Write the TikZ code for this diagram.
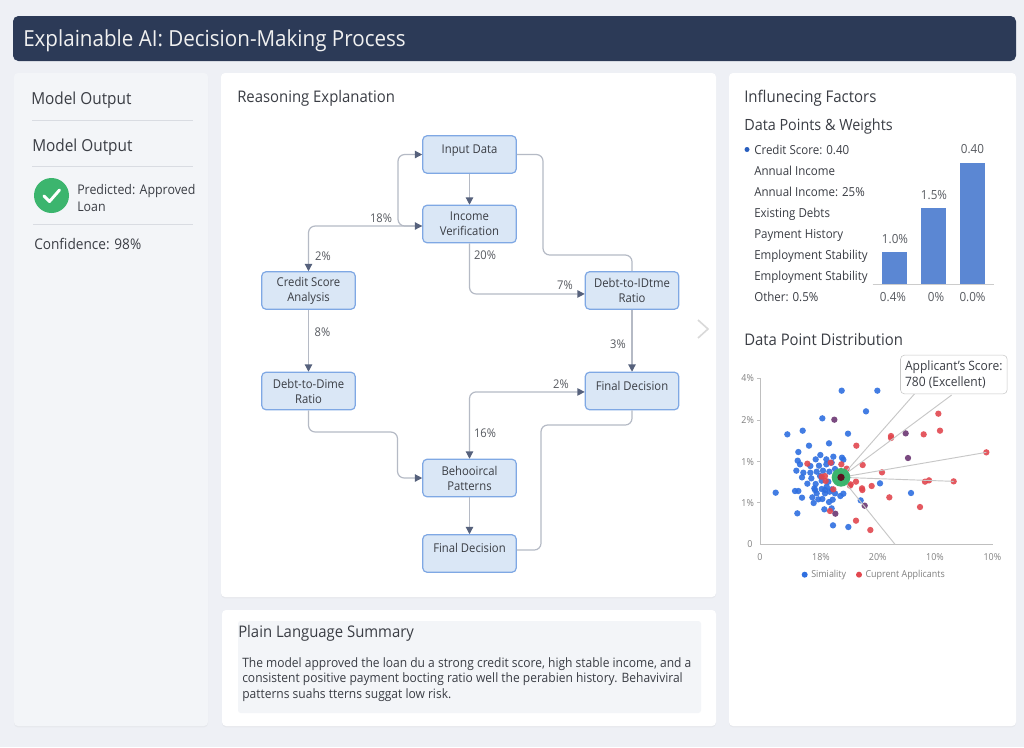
\documentclass[tikz,border=0pt]{standalone}
\usepackage{fontspec}
\setmainfont{Open Sans}[FakeStretch=0.93]
\usepackage{xcolor}
\usetikzlibrary{arrows.meta,shadows}
\definecolor{pagebg}{HTML}{EEF0F5}
\definecolor{titlebar}{HTML}{2C3A57}
\definecolor{sidepanel}{HTML}{F3F5F8}
\definecolor{inktext}{HTML}{3A3D44}
\definecolor{flowfill}{HTML}{DAE7F6}
\definecolor{flowedge}{HTML}{7FA8E4}
\definecolor{flowline}{HTML}{B5BAC5}
\definecolor{flowtip}{HTML}{56617C}
\definecolor{barblue}{HTML}{5B87D3}
\definecolor{dotblue}{HTML}{2F6FE0}
\definecolor{dotred}{HTML}{E2474F}
\definecolor{dotdark}{HTML}{7A4A80}
\definecolor{dotcore}{HTML}{5C1020}
\definecolor{okgreen}{HTML}{3CB56E}
\definecolor{rulegrey}{HTML}{D9DCE2}
\tikzset{
  panel/.style={fill=white, rounded corners=3pt, drop shadow={opacity=.07, shadow xshift=0pt, shadow yshift=-1pt}},
  flowbox/.style={draw=flowedge, fill=flowfill, line width=.9pt, rounded corners=3pt, align=center,
    minimum width=70pt, minimum height=28pt, inner sep=0pt, text=inktext, font=\fontsize{9.1}{11.2}\selectfont},
  flowone/.style={flowbox, text depth=8pt},
  flowarrow/.style={draw=flowline, line width=.9pt, rounded corners=5pt, -{Triangle[length=5.5pt,width=5.5pt,color=flowtip]}},
  flowtwo/.style={flowarrow, {Triangle[length=5.5pt,width=5.5pt,color=flowtip]}-{Triangle[length=5.5pt,width=5.5pt,color=flowtip]}},
  flowplain/.style={draw=flowline, line width=.9pt, rounded corners=5pt},
  pct/.style={text=inktext!85, font=\fontsize{9}{10}\selectfont, inner sep=0pt},
  head/.style={anchor=base west, yshift=-4.2pt, text=inktext, inner sep=0pt, font=\fontsize{12}{14}\selectfont},
  txt/.style={anchor=base west, yshift=-3.4pt, text=inktext, inner sep=0pt, font=\fontsize{9.3}{12}\selectfont},
  tick/.style={text=black!50, inner sep=0pt, font=\fontsize{7.2}{8}\selectfont},
  barlbl/.style={text=inktext!85, inner sep=0pt, font=\fontsize{9.4}{10}\selectfont},
  rulegr/.style={draw=rulegrey, line width=.6pt},
}
\begin{document}
\begin{tikzpicture}[x=.75pt,y=-.75pt]
  \useasboundingbox (0,0) rectangle (1024,747);
  \fill[pagebg] (0,0) rectangle (1024,747);
  % title and panels
  \fill[titlebar, rounded corners=4pt] (13,16) rectangle (1016,61);
  \node[anchor=base west, yshift=-6pt, text=white!94!black, inner sep=0pt, font=\fontsize{16.6}{20}\selectfont] (title) at (23,38) {Explainable AI: Decision-Making Process};
  \fill[panel, fill=sidepanel] (14,73) rectangle (208,726);
  \fill[panel] (221,73) rectangle (716,597);
  \fill[panel] (222,610) rectangle (716,726);
  \fill[panel] (729,73) rectangle (1016,726);
  % left panel
  \node[head, font=\fontsize{12.4}{14}\selectfont] (out1) at (31,98.5) {Model Output};
  \draw[rulegr] (32,120.5) -- (193,120.5);
  \node[head, font=\fontsize{12.4}{14}\selectfont] (out2) at (32,145.5) {Model Output};
  \draw[rulegr] (32,166.5) -- (193,166.5);
  \fill[okgreen] (51.5,195.5) circle (17.5);
  \draw[white, line width=2.2pt, line cap=round, line join=round] (44,196) -- (49.5,201.5) -- (59.5,190);
  \node[txt, anchor=west, yshift=0pt, align=left, font=\fontsize{10}{12.8}\selectfont] (pred) at (77,193.5) {Predicted: Approved\\Loan};
  \draw[rulegr] (33,224.5) -- (193,224.5);
  \node[txt, font=\fontsize{11}{12}\selectfont] (conf) at (34,244.5) {Confidence: 98\%};
  % reasoning flow
  \node[head] (reason) at (237,96.5) {Reasoning Explanation};
  \node[flowone] (input) at (469.5,154.5) {Input Data};
  \node[flowbox] (income) at (469.5,224) {Income\\Verification};
  \node[flowbox] (credit) at (308.5,290.5) {Credit Score\\Analysis};
  \node[flowbox] (dtime) at (632,290.5) {Debt-to-IDtme\\Ratio};
  \node[flowbox] (ddime) at (308.5,391) {Debt-to-Dime\\Ratio};
  \node[flowone] (finalr) at (632,391) {Final Decision};
  \node[flowbox] (behav) at (469.5,478) {Behooircal\\Patterns};
  \node[flowone] (finalb) at (469.5,553.5) {Final Decision};
  \coordinate (incomein) at ([yshift=-1.5pt]income.west);
  \coordinate (dtimein) at ([yshift=-2.6pt]dtime.west);
  \coordinate (finalrin) at ([yshift=-.7pt]finalr.west);
  \coordinate (finalbout) at ([yshift=2.6pt]finalb.east);
  \draw[flowarrow] (input) -- (income);
  \draw[flowarrow] (incomein) -- (398,226) -- (398,154.5) -- (input.west);
  \draw[flowtwo] (credit.north) -- (308.5,226) -- (incomein);
  \draw[flowplain] (input.east) -- (543,154.5) -- (543,255) -- (632,255) -- (dtime.north);
  \draw[flowarrow] (income.south) -- (469.5,294) -- (dtimein);
  \draw[flowarrow] (credit) -- (ddime);
  \draw[flowarrow] (dtime) -- (finalr);
  \draw[flowarrow] (ddime.south) -- (308.5,432) -- (397.5,432) -- (397.5,478) -- (behav.west);
  \draw[flowtwo] (behav.north) -- (469.5,391.9) -- (finalrin);
  \draw[flowarrow] (behav) -- (finalb);
  \draw[flowplain] (finalbout) -- (541,550) -- (541,425) -- (632,425) -- (finalr.south);
  \node[pct] (p18) at (381,218) {18\%};
  \node[pct] (p2a) at (323,256) {2\%};
  \node[pct] (p20) at (485,255) {20\%};
  \node[pct] (p7) at (565,285) {7\%};
  \node[pct] (p8) at (322.5,332) {8\%};
  \node[pct] (p3) at (618,344) {3\%};
  \node[pct] (p2b) at (561,384) {2\%};
  \node[pct] (p16) at (485,433) {16\%};
  \draw[black!15, line width=1.2pt] (698,320) -- (708,329) -- (698,338);
  % summary
  \fill[pagebg!70, rounded corners=2pt] (238,621) rectangle (701,713);
  \node[head] (plain) at (238,632) {Plain Language Summary};
  \node[txt, align=left, anchor=north west, yshift=0pt, font=\fontsize{9.7}{11.7}\selectfont] (sumtxt) at (242,652.5) {The model approved the loan du a strong credit score, high stable income, and a\\consistent positive payment bocting ratio well the perabien history. Behaviviral\\patterns suahs tterns suggat low risk.};
  % factors
  \node[head, font=\fontsize{12.1}{14}\selectfont] (factors) at (744,96.5) {Influnecing Factors};
  \node[head, font=\fontsize{11.6}{14}\selectfont] (weights) at (744,125) {Data Points \& Weights};
  \fill[dotblue!85!black] (747,149.5) circle (2.5);
  \foreach \i/\yy/\t in {1/149.5/Credit Score: 0.40, 2/170.5/Annual Income, 3/191.5/Annual Income: 25\%, 4/212.5/Existing Debts,
    5/233.5/Payment History, 6/254.5/Employment Stability, 7/275.5/Employment Stability, 8/296.5/Other: 0.5\%}
    \node[txt] (fac\i) at (754,\yy) {\t};
  \foreach \xa/\xb/\yt in {881.7/906.7/251.7, 921/946/208, 960.3/985/162.7}
    \fill[barblue] (\xa,\yt) rectangle (\xb,284);
  \draw[black!20, line width=.7pt] (872.5,284) -- (994,284);
  \node[barlbl] (bt1) at (895,239) {1.0\%};
  \node[barlbl] (bt2) at (934,195) {1.5\%};
  \node[barlbl] (bt3) at (972.5,149.5) {0.40};
  \node[barlbl] (bb1) at (893,297) {0.4\%};
  \node[barlbl] (bb2) at (936,297) {0\%};
  \node[barlbl] (bb3) at (972.5,297) {0.0\%};
  % scatter
  \node[head] (dist) at (744,340) {Data Point Distribution};
  \begin{scope}[shift={(735,350)},x=.25pt,y=-.25pt]
    \draw[black!25, line width=.7pt] (67,85) -- (77,85) -- (77,583) -- (775,583);
    \foreach \yy in {210,335,458} \draw[black!25, line width=.7pt] (67,\yy) -- (77,\yy);
    \foreach \x/\y in {320/122,427/122,393/184,262/205,203/242,157/253,339/251,282/280,222/287,190/306,
      256/315,295/320,321/323,188/332,242/328,274/328,325/329,195/343,226/348,252/347,274/343,290/338,
      184/362,205/368,226/368,245/365,264/362,300/357,201/382,229/385,255/378,283/365,217/401,242/402,
      260/392,280/395,238/415,260/417,275/410,290/418,122/428,180/423,190/423,201/443,232/442,245/430,
      262/447,270/430,284/425,300/430,316/438,325/431,236/459,250/448,282/456,293/449,377/451,268/478,
      290/475,187/490,294/526,340/531,435/400,528/429,240/420,270/420}
      \fill[dotblue, opacity=.9] (\x,\y) circle (9.5);
    \foreach \x/\y in {610/191,615/242,566/253,468/258,468/264,364/287,754/307,217/341,287/338,319/343,
      335/356,383/345,441/367,260/380,270/378,272/393,363/395,347/403,345/407,381/415,382/420,410/408,
      570/395,582/391,656/394,463/442,555/471,295/418,363/512,406/540,285/483}
      \fill[dotred, opacity=.9] (\x,\y) circle (9.5);
    \foreach \x/\y in {298/209,512/250,519/324,389/467,301/491}
      \fill[dotdark] (\x,\y) circle (9.5);
    \coordinate (appl) at (318,382);
    \foreach \x/\y in {540/130,650/135,754/307,656/394,480/583}
      \draw[black!22, line width=.7pt] (appl) -- (\x,\y);
    \fill[okgreen] (appl) circle (28);
    \fill[dotcore] (appl) circle (11);
    \node[draw=black!22, fill=white, rounded corners=3pt, minimum width=80pt, minimum height=29pt, inner sep=0pt, align=left,
      text=inktext, font=\fontsize{9.7}{11.6}\selectfont] (callout) at (656.5,73.5) {Applicant's Score:\\780 (Excellent)};
    \node[tick] (y4) at (38,85) {4\%};
    \node[tick] (y2) at (38,210) {2\%};
    \node[tick] (y1a) at (38,335) {1\%};
    \node[tick] (y1b) at (38,458) {1\%};
    \node[tick] (y0) at (45,583) {0};
    \node[tick] (x0) at (75,622) {0};
    \node[tick] (x1) at (258,622) {18\%};
    \node[tick] (x2) at (428,622) {20\%};
    \node[tick] (x3) at (600,622) {10\%};
    \node[tick] (x4) at (772,622) {10\%};
    \fill[dotblue] (209,674) circle (9);
    \node[tick, anchor=west] (legb) at (228,675) {Simiality};
    \fill[dotred] (372,674) circle (9);
    \node[tick, anchor=west] (legr) at (391,675) {Cuprent Applicants};
  \end{scope}
\end{tikzpicture}
\end{document}
